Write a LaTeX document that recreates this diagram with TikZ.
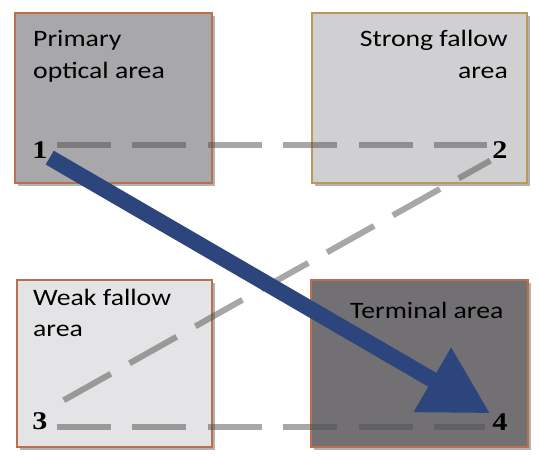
\documentclass[tikz,border=0pt]{standalone}
\usepackage{fontspec}
\setmainfont{Carlito}
\newfontfamily\digitfont{Liberation Serif}
\usetikzlibrary{arrows.meta,shadows}
\definecolor{boxA}{RGB}{168,167,170}
\definecolor{boxB}{RGB}{208,208,210}
\definecolor{boxC}{RGB}{228,228,230}
\definecolor{boxD}{RGB}{114,112,115}
\definecolor{edgeO}{RGB}{184,112,78}
\definecolor{edgeG}{RGB}{186,154,90}
\definecolor{dashgray}{RGB}{80,80,80}
\definecolor{navy}{RGB}{44,70,125}
\newcommand{\wide}[1]{\scalebox{1.18}[1]{#1}}
\tikzset{
  area/.style={draw, line width=1.6pt, inner sep=0pt,
    drop shadow={shadow xshift=3pt, shadow yshift=-3pt, opacity=0.3, fill=black}},
  lbl/.style={font=\fontsize{23.5}{27}\selectfont, inner sep=0pt, text=black},
  digit/.style={font=\digitfont\bfseries\fontsize{25.5}{25.5}\selectfont, inner sep=0pt},
  dashlink/.style={draw=dashgray, draw opacity=0.5, line width=6pt, dash pattern=on 54pt off 21.5pt},
  mainarrow/.style={draw=navy, line width=16pt, -{Triangle[length=67pt,width=70pt]}}
}
\begin{document}
\begin{tikzpicture}[x=1pt,y=-1pt]
\useasboundingbox (0,0) rectangle (540,460);
% boxes
\node[area, fill=boxA, draw=edgeO, minimum width=197pt, minimum height=170pt] (b1) at (113.5,98) {};
\node[area, fill=boxB, draw=edgeG, minimum width=215pt, minimum height=170pt] (b2) at (419.5,98) {};
\node[area, fill=boxC, draw=edgeO, minimum width=195pt, minimum height=167pt] (b3) at (114.5,363.5) {};
\node[area, fill=boxD, draw=edgeO, minimum width=217pt, minimum height=167pt] (b4) at (419.5,363.5) {};
% labels
\node[lbl, anchor=base west] (t1a) at (33,47) {\wide{Primary}};
\node[lbl, anchor=base west] (t1b) at (33,78) {\wide{optical area}};
\node[lbl, anchor=base east] (t2a) at (508,47) {\wide{Strong fallow}};
\node[lbl, anchor=base east] (t2b) at (508,78) {\wide{area}};
\node[lbl, anchor=base west] (t3a) at (33,305) {\wide{Weak fallow}};
\node[lbl, anchor=base west] (t3b) at (33,336) {\wide{area}};
\node[lbl, anchor=base west] (t4) at (350,318) {\wide{Terminal area}};
% digits
\node[digit] (n1) at (40,150) {\wide{1}};
\node[digit] (n2) at (500,150) {\wide{2}};
\node[digit] (n3) at (40,421) {\wide{3}};
\node[digit] (n4) at (500,422) {\wide{4}};
% dashed links
\draw[dashlink] ([xshift=9pt,yshift=5pt]n1.east) -- ([xshift=-5pt,yshift=5pt]n2.west);
\draw[dashlink] ([xshift=9pt,yshift=-6pt]n3.east) -- ([xshift=-7pt,yshift=-5pt]n4.west);
\draw[dashlink] ([xshift=16pt,yshift=12pt]n3.north east) -- ([xshift=-2pt,yshift=-2pt]n2.south west);
% main arrow
\draw[mainarrow] ([xshift=2pt,yshift=1pt]n1.south east) -- ([xshift=-2pt,yshift=0pt]n4.north west);
\end{tikzpicture}
\end{document}
